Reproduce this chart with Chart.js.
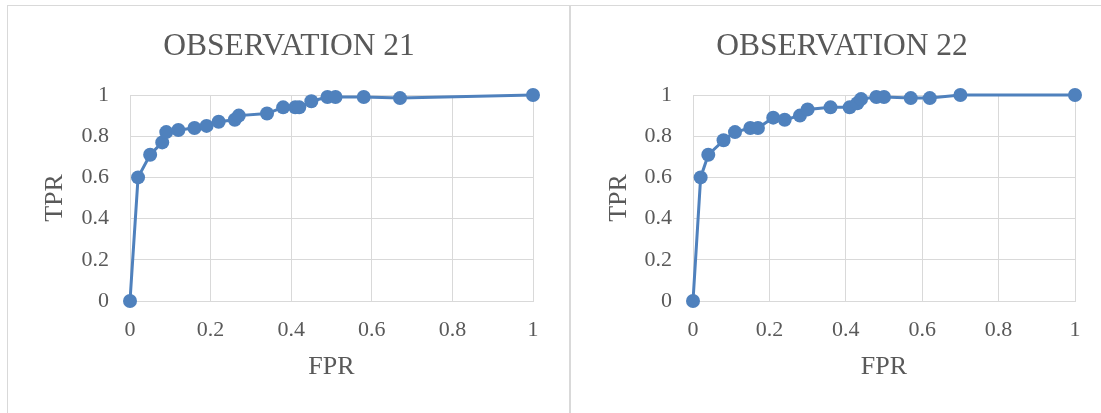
<!DOCTYPE html>
<html>
<head>
<meta charset="utf-8">
<script src="https://cdn.jsdelivr.net/npm/chart.js@4.4.0/dist/chart.umd.min.js"></script>
<style>
  html, body { margin: 0; padding: 0; background: #fff; }
  body { width: 1101px; height: 413px; position: relative; overflow: hidden; }
  .panel { position: absolute; top: 5px; height: 407px; border-top: 1px solid #d9d9d9; }
  #p21 { left: 7px; width: 562px; border-left: 1px solid #d9d9d9; }
  #p22 { left: 569px; right: 0; border-left: 2px solid #d9d9d9; }
  .panel canvas { display: block; }
</style>
</head>
<body>
<div class="panel" id="p21"><canvas id="c21"></canvas></div>
<div class="panel" id="p22"><canvas id="c22"></canvas></div>
<script>
// --- DATA ---
const fpr21 = [0, 0.02, 0.05, 0.08, 0.09, 0.12, 0.16, 0.19, 0.22, 0.26, 0.27, 0.34, 0.38, 0.41, 0.42, 0.45, 0.49, 0.51, 0.58, 0.67, 1];
const tpr21 = [0, 0.60, 0.71, 0.77, 0.82, 0.83, 0.84, 0.85, 0.87, 0.88, 0.90, 0.91, 0.94, 0.94, 0.94, 0.97, 0.99, 0.99, 0.99, 0.985, 1];
const fpr22 = [0, 0.02, 0.04, 0.08, 0.11, 0.15, 0.17, 0.21, 0.24, 0.28, 0.30, 0.36, 0.41, 0.43, 0.44, 0.48, 0.50, 0.57, 0.62, 0.70, 1];
const tpr22 = [0, 0.60, 0.71, 0.78, 0.82, 0.84, 0.84, 0.89, 0.88, 0.90, 0.93, 0.94, 0.94, 0.96, 0.98, 0.99, 0.99, 0.985, 0.985, 1, 1];
const axisTicks = [0, 0.2, 0.4, 0.6, 0.8, 1];

// --- STYLE ---
const BLUE = '#4f81bd';
const GREY_TEXT = '#595959';
const GRID = '#d9d9d9';
const SERIF = '"Liberation Serif", "Times New Roman", serif';

// padL/padR: layout padding, also decides where the title sits
function makeChart(canvasId, title, fpr, tpr, padL, padR, yTitlePad) {
    const points = fpr.map((x, i) => ({ x: x, y: tpr[i] }));
    const tickLabel = v => {
        const r = Math.round(v * 10) / 10;
        return axisTicks.includes(r) ? String(r) : '';
    };
    return new Chart(document.getElementById(canvasId), {
        type: 'line',
        data: {
            datasets: [{
                data: points,
                borderColor: BLUE,
                backgroundColor: BLUE,
                borderWidth: 3,
                pointRadius: 7,
                pointHoverRadius: 7,
                pointBorderWidth: 0,
                tension: 0,
                clip: false
            }]
        },
        options: {
            responsive: true,
            maintainAspectRatio: false,
            animation: false,
            layout: { padding: { left: padL, right: padR, top: 0, bottom: 0 } },
            plugins: {
                legend: { display: false },
                tooltip: { enabled: false },
                title: {
                    display: true,
                    text: title,
                    color: GREY_TEXT,
                    font: { family: SERIF, size: 31.5, weight: 'normal' },
                    padding: { top: 21.5, bottom: 29.7 }
                }
            },
            scales: {
                x: {
                    type: 'linear',
                    min: 0, max: 1,
                    afterFit: s => { s.height = 112; },
                    ticks: { stepSize: 0.2, padding: 16.5, color: GREY_TEXT, font: { family: SERIF, size: 22 }, callback: tickLabel, maxRotation: 0 },
                    grid: { color: GRID, lineWidth: 1, drawTicks: false },
                    border: { color: GRID, width: 1 },
                    title: { display: true, text: 'FPR', color: GREY_TEXT, font: { family: SERIF, size: 26 }, padding: { top: 0, bottom: 30 } }
                },
                y: {
                    type: 'linear',
                    min: 0, max: 1,
                    afterFit: s => { s.width = 122 - padL; },
                    ticks: { stepSize: 0.2, padding: 21, color: GREY_TEXT, font: { family: SERIF, size: 22 }, callback: tickLabel },
                    grid: { color: GRID, lineWidth: 1, drawTicks: false },
                    border: { color: GRID, width: 1 },
                    title: { display: true, text: 'TPR', color: GREY_TEXT, font: { family: SERIF, size: 26 }, padding: { top: yTitlePad, bottom: 0 } }
                }
            }
        }
    });
}

// --- INIT ---
makeChart('c21', 'OBSERVATION 21', fpr21, tpr21, 37, 37, -5.6);
makeChart('c22', 'OBSERVATION 22', fpr22, tpr22, 38, 26, -5.6);
</script>
</body>
</html>
